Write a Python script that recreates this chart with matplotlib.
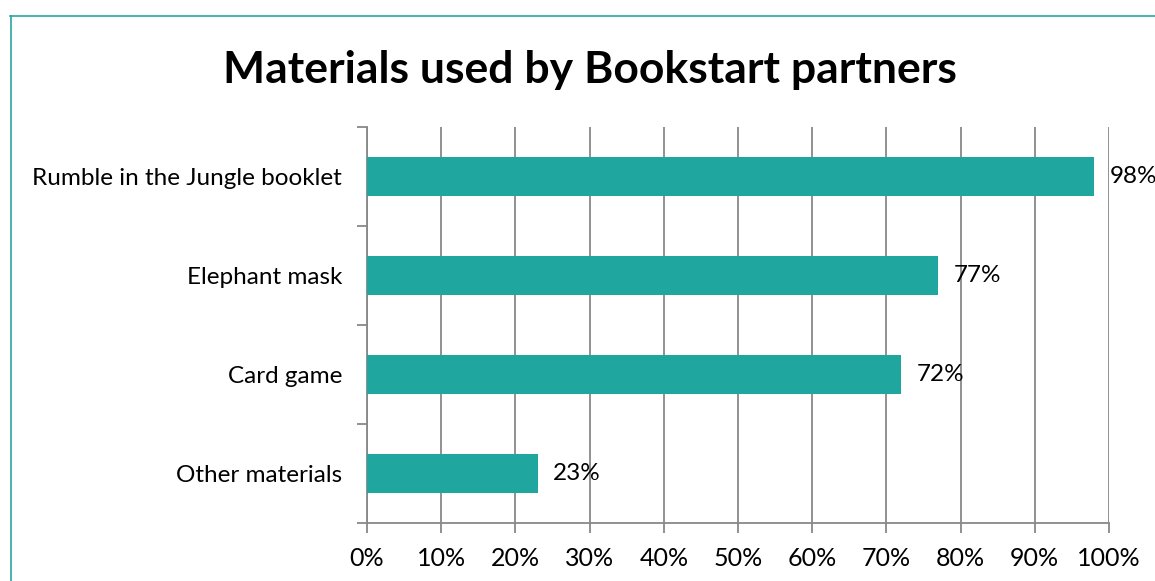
import matplotlib
matplotlib.use("Agg")
import matplotlib.pyplot as plt
from matplotlib.lines import Line2D
from matplotlib.ticker import FixedLocator

plt.rcParams['font.family'] = ['Lato', 'DejaVu Sans']

categories = ["Rumble in the Jungle booklet", "Elephant mask", "Card game", "Other materials"]
values = [98, 77, 72, 23]
xticks = [0, 10, 20, 30, 40, 50, 60, 70, 80, 90, 100]
title = "Materials used by Bookstart partners"

bar_color = '#1FA69F'
axis_color = '#888888'

fig = plt.figure(figsize=(11.55, 5.81), dpi=100)
ax = fig.add_axes([367/1155, 1 - 523/581, (1109 - 367)/1155, (523 - 127)/581])

n = len(categories)
ypos = list(range(n))[::-1]
ax.barh(ypos, values, height=0.4, color=bar_color, zorder=3)
for y, v in zip(ypos, values):
    ax.annotate(f"{v}%", xy=(v, y), xytext=(11, 0), textcoords='offset points',
                va='center', ha='left', fontsize=17.5, color='black', zorder=4)

ax.set_xlim(0, 100)
ax.set_ylim(-0.5, n - 0.5)
ax.set_xticks(xticks)
ax.set_xticklabels([f"{t}%" for t in xticks], fontsize=18)
ax.set_yticks(ypos)
ax.set_yticklabels(categories, fontsize=17.5)
ax.yaxis.set_minor_locator(FixedLocator([i - 0.5 for i in range(n + 1)]))
ax.tick_params(axis='y', which='major', length=0, pad=18)
ax.tick_params(axis='y', which='minor', length=7, width=1.3, color=axis_color, direction='out')
ax.tick_params(axis='x', which='major', length=7, width=1.3, color=axis_color, direction='out', pad=10.5)

ax.grid(axis='x', color=axis_color, linewidth=1.3, zorder=0)
ax.set_axisbelow(True)
for s in ['top', 'right']:
    ax.spines[s].set_visible(False)
for s in ['left', 'bottom']:
    ax.spines[s].set_color(axis_color)
    ax.spines[s].set_linewidth(1.3)

fig.text(590/1155, 1 - 70/581, title, ha='center', va='center', fontsize=32, fontweight='bold')

border_color = '#2AA79F'
fig.add_artist(Line2D([10.5/1155, 10.5/1155], [0, 1 - 15.5/581], transform=fig.transFigure, color=border_color, linewidth=1.2))
fig.add_artist(Line2D([10/1155, 1], [1 - 15.5/581, 1 - 15.5/581], transform=fig.transFigure, color=border_color, linewidth=1.2))

fig.savefig("out.png", dpi=100, facecolor='white')
